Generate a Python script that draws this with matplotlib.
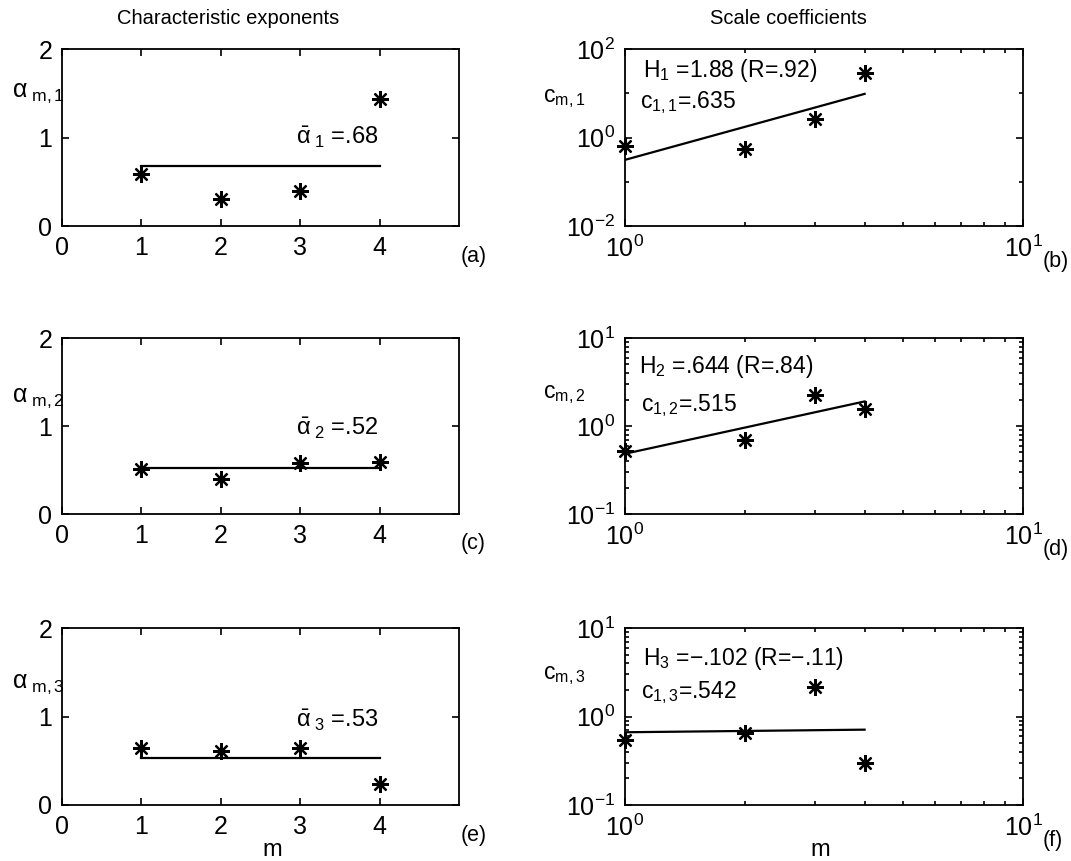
import numpy as np
import matplotlib
matplotlib.use("Agg")
import matplotlib.pyplot as plt
from matplotlib import font_manager
from matplotlib.ticker import FixedLocator, FuncFormatter, NullFormatter

# ---------------------------------------------------------------- data
m = [1, 2, 3, 4]

alpha_m1 = [0.59, 0.31, 0.40, 1.43]
alpha_m2 = [0.51, 0.40, 0.58, 0.59]
alpha_m3 = [0.64, 0.61, 0.64, 0.24]
alpha_bar = [0.68, 0.52, 0.53]

c_m1 = [0.635, 0.54, 2.6, 28.0]
c_m2 = [0.515, 0.70, 2.26, 1.55]
c_m3 = [0.542, 0.645, 2.16, 0.30]

H_text = ["1.88", ".644", "\u2212.102"]
R_text = [".92", ".84", "\u2212.11"]

panel_tags_left = ["(a)", "(c)", "(e)"]
panel_tags_right = ["(b)", "(d)", "(f)"]
col_titles = ["Characteristic exponents", "Scale coefficients"]

# ---------------------------------------------------------------- style
plt.rcParams.update({
    "font.family": ["Liberation Sans", "DejaVu Sans"],
    "mathtext.fontset": "custom",
    "mathtext.rm": "Liberation Sans",
    "mathtext.it": "Liberation Sans",
    "mathtext.bf": "Liberation Sans:bold",
    "mathtext.sf": "Liberation Sans",
    "mathtext.default": "regular",
    "axes.linewidth": 1.3,
})

try:
    font_manager.findfont("Liberation Sans Narrow", fallback_to_default=False)
    title_family = ["Liberation Sans Narrow", "Liberation Sans"]
    title_size = 17
except Exception:
    title_family = ["Liberation Sans"]
    title_size = 14.5

W, H = 1071, 861
fig = plt.figure(figsize=(W / 100, H / 100), dpi=100)


def box(l, t, r, b):
    return [l / W, 1 - b / H, (r - l) / W, (b - t) / H]


rows = [(49, 226), (338, 514), (628, 805)]
LX = (62, 459)
RX = (625, 1023)

star = (8, 2, 0)
mk = dict(ls="none", marker=star, ms=12, mew=1.6, color="k", clip_on=False)


def frac2(v):
    return f"{v:.2f}".lstrip("0")


def frac3(v):
    return f"{v:.3f}".lstrip("0")


def style_axes(ax):
    ax.tick_params(which="both", direction="in", top=True, right=True,
                   labelsize=18, pad=7, width=1.2)
    ax.tick_params(which="major", length=5)
    ax.tick_params(which="minor", length=3)


# ---------------------------------------------------------------- left column
alphas = [alpha_m1, alpha_m2, alpha_m3]
abar_pos = [(2.95, 0.92), (2.95, 0.90), (2.95, 0.885)]
ylab_pos = [0.73, 0.638, 0.66]
for i in range(3):
    ax = fig.add_axes(box(LX[0], rows[i][0], LX[1], rows[i][1]))
    ax.plot(m, alphas[i], **mk)
    ax.plot([m[0], m[-1]], [alpha_bar[i]] * 2, color="k", lw=1.6)
    ax.set_xlim(0, 5)
    ax.set_ylim(0, 2)
    ax.set_xticks([0, 1, 2, 3, 4])
    ax.set_yticks([0, 1, 2])
    style_axes(ax)
    ax.text(abar_pos[i][0], abar_pos[i][1],
            r"$\bar{\alpha}_{\ %d}$ =%s" % (i + 1, frac2(alpha_bar[i])),
            fontsize=17, va="baseline", ha="left")
    ax.text(-0.127, ylab_pos[i], r"$\alpha_{\ m,%d}$" % (i + 1),
            transform=ax.transAxes, fontsize=18, va="baseline", ha="left")
    ax.text(1.003, -0.17, panel_tags_left[i], transform=ax.transAxes,
            fontsize=15.5, va="center", ha="left")
    if i == 2:
        ax.text(0.53, -0.255, "m", transform=ax.transAxes, fontsize=17,
                ha="center", va="center")

# ---------------------------------------------------------------- right column
cs = [c_m1, c_m2, c_m3]
ylims = [(1e-2, 1e2), (1e-1, 1e1), (1e-1, 1e1)]
ymajor = [[1e-2, 1e0, 1e2], [1e-1, 1e0, 1e1], [1e-1, 1e0, 1e1]]
yminor = [[1e-1, 1e1],
          [k * 10.0 ** e for e in (-1, 0) for k in range(2, 10)],
          [k * 10.0 ** e for e in (-1, 0) for k in range(2, 10)]]
htxt_pos = [(0.045, 0.84), (0.035, 0.80), (0.045, 0.79)]
ctxt_pos = [(0.038, 0.666), (0.040, 0.587), (0.040, 0.606)]
clab_pos = [0.698, 0.658, 0.709]
pow_fmt = FuncFormatter(lambda v, _: r"$10^{%d}$" % int(round(np.log10(v))))

for i in range(3):
    ax = fig.add_axes(box(RX[0], rows[i][0], RX[1], rows[i][1]))
    ax.set_xscale("log")
    ax.set_yscale("log")
    ax.plot(m, cs[i], **mk)
    lm = np.log10(m)
    coef = np.polyfit(lm, np.log10(cs[i]), 1)
    xf = np.array([m[0], m[-1]], dtype=float)
    ax.plot(xf, 10 ** np.polyval(coef, np.log10(xf)), color="k", lw=1.6)
    ax.set_xlim(1, 10)
    ax.set_ylim(*ylims[i])
    ax.xaxis.set_major_locator(FixedLocator([1, 10]))
    ax.xaxis.set_minor_locator(FixedLocator(list(range(2, 10))))
    ax.yaxis.set_major_locator(FixedLocator(ymajor[i]))
    ax.yaxis.set_minor_locator(FixedLocator(yminor[i]))
    ax.xaxis.set_major_formatter(pow_fmt)
    ax.yaxis.set_major_formatter(pow_fmt)
    ax.xaxis.set_minor_formatter(NullFormatter())
    ax.yaxis.set_minor_formatter(NullFormatter())
    style_axes(ax)
    ax.text(*htxt_pos[i], r"H$_{%d}$ =%s (R=%s)" % (i + 1, H_text[i], R_text[i]),
            transform=ax.transAxes, fontsize=16.5, va="baseline", ha="left")
    ax.text(*ctxt_pos[i], r"c$_{1,%d}$=%s" % (i + 1, frac3(cs[i][0])),
            transform=ax.transAxes, fontsize=16.5, va="baseline", ha="left")
    ax.text(-0.207, clab_pos[i], r"c$_{m,%d}$" % (i + 1),
            transform=ax.transAxes, fontsize=16.5, va="baseline", ha="left")
    ax.text(1.05, -0.2, panel_tags_right[i], transform=ax.transAxes,
            fontsize=15.5, va="center", ha="left")
    if i == 2:
        ax.text(0.49, -0.255, "m", transform=ax.transAxes, fontsize=17,
                ha="center", va="center")

# ---------------------------------------------------------------- titles
fig.text(228 / W, 1 - 19 / H, col_titles[0], ha="center", va="center",
         fontsize=title_size, family=title_family)
fig.text(788 / W, 1 - 19 / H, col_titles[1], ha="center", va="center",
         fontsize=title_size, family=title_family)

fig.savefig("out.png", dpi=100, facecolor="white")
